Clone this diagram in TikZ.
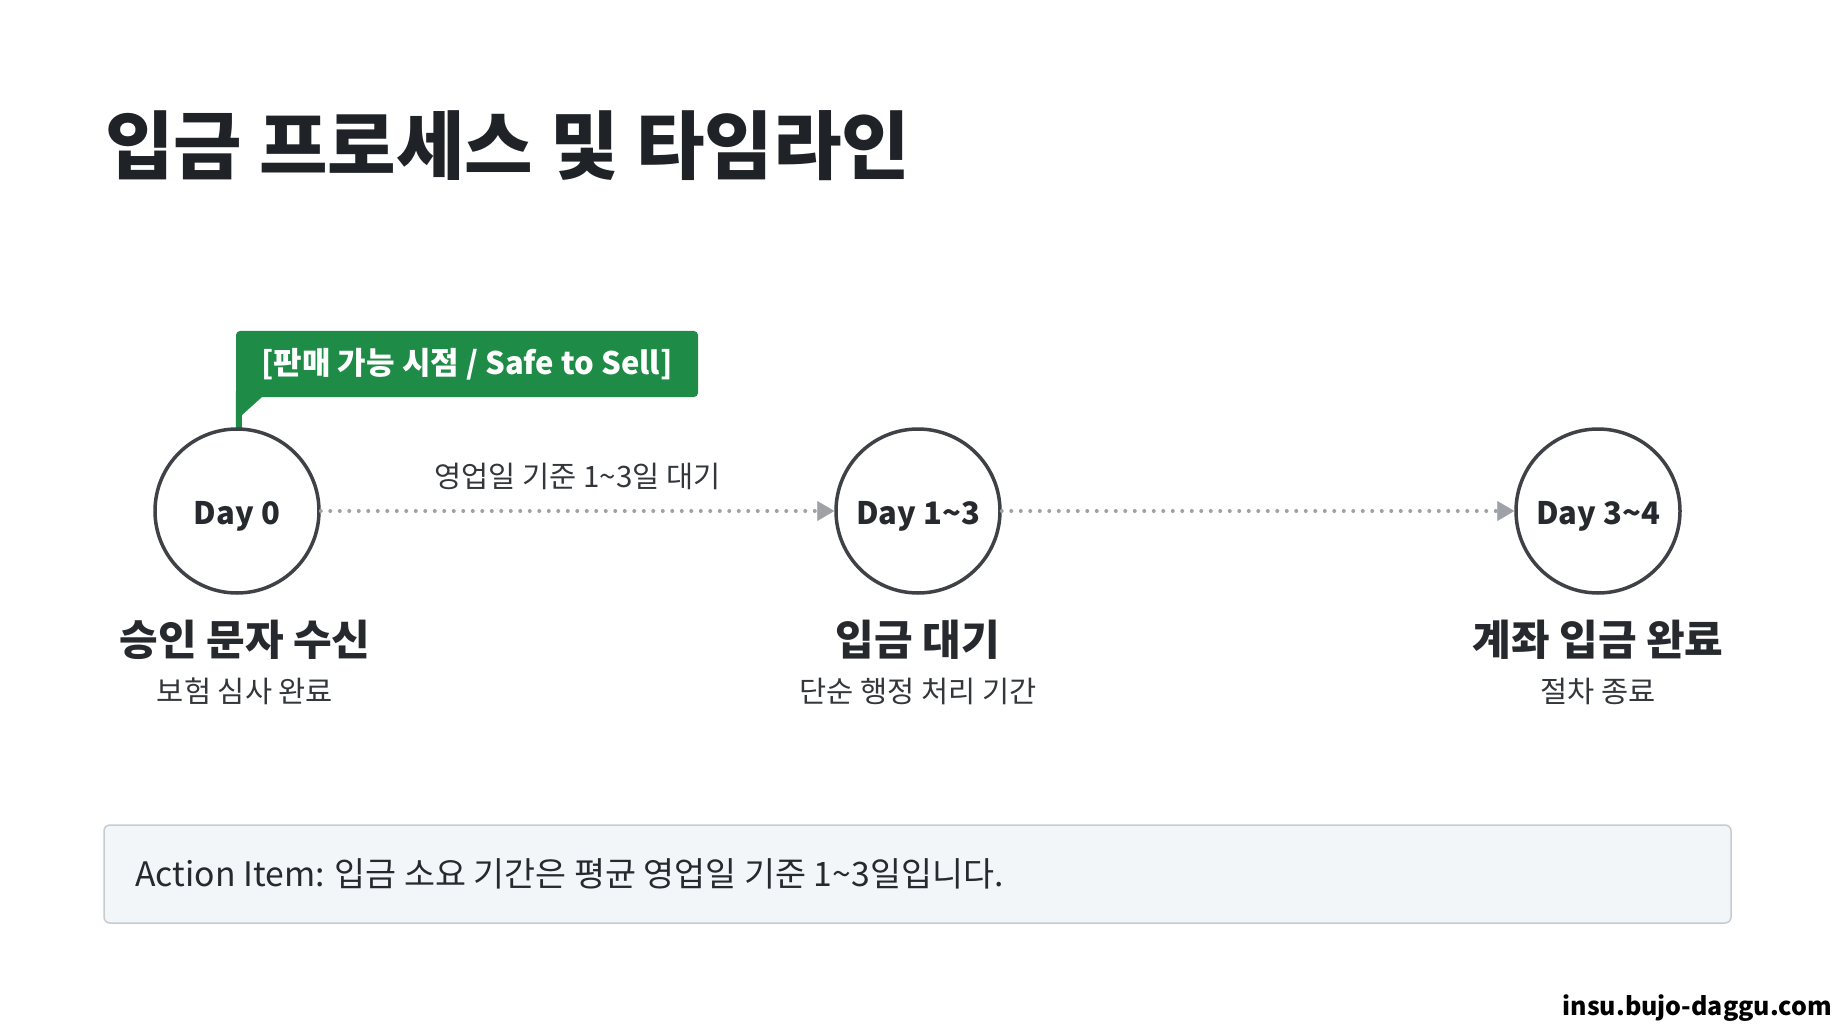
\documentclass[tikz,border=0pt]{standalone}
\usepackage{fontspec}
\setmainfont{Noto Sans CJK KR}
\usetikzlibrary{arrows.meta,positioning,calc}
\definecolor{titleink}{HTML}{1F2328}
\definecolor{textdark}{HTML}{26292D}
\definecolor{notegray}{HTML}{33373B}
\definecolor{ringgray}{HTML}{3E4246}
\definecolor{dotgray}{HTML}{9EA2A6}
\definecolor{safegreen}{HTML}{1E8C46}
\definecolor{boxfill}{HTML}{F3F6F9}
\definecolor{boxline}{HTML}{C6CBD0}
\newcommand{\tl}{\textasciitilde}
\newcommand{\daytext}[1]{\raisebox{-5pt}[\height][\depth]{#1}}
\tikzstyle{day}=[circle, draw=ringgray, line width=3.5pt, fill=white,
    minimum size=164pt, inner sep=0pt, text=textdark,
    font=\fontsize{31}{37}\selectfont\bfseries]
\tikzstyle{stage}=[inner sep=0pt, text=textdark,
    font=\fontsize{42}{50}\selectfont\bfseries]
\tikzstyle{note}=[inner sep=0pt, text=notegray,
    font=\fontsize{29.5}{35}\selectfont]
\tikzstyle{wait}=[dotgray, line width=4pt, line cap=round,
    dash pattern=on 0pt off 9.5pt,
    -{Triangle[width=20pt,length=17pt,line width=0.5pt]}]
\tikzstyle{flag}=[fill=safegreen, rounded corners=4pt, text=white,
    minimum width=462pt, minimum height=66pt, inner sep=0pt,
    font=\fontsize{31}{37}\selectfont\bfseries]

\begin{document}
\begin{tikzpicture}[x=1pt, y=-1pt]
    \useasboundingbox[fill=white] (0,0) rectangle (1834,1024);
    \node[anchor=west, inner sep=0pt, text=titleink,
        font=\fontsize{74.5}{90}\selectfont\bfseries] (title) at (105,146)
        {입금 프로세스 및 타임라인};
    % callout with its tail
    \node (safe) [flag] at (467,364) {[판매 가능 시점 / Safe to Sell]};
    \fill[safegreen] ($(safe.south west)+(0,-6)$) -- ++(0,40) -- ++(6,0)
        -- ++(0,-16) -- ++(20,-18) -- ++(0,-6) -- cycle;
    % milestones
    \node (d0) [day] at (237,511) {\daytext{Day 0}};
    \node (d1) [day] at (918,511) {\daytext{Day 1\tl 3}};
    \node (d2) [day] at (1598,511) {\daytext{Day 3\tl 4}};
    \draw[wait] (d0) -- node[midway, above=19pt, inner sep=0pt, text=notegray,
        font=\fontsize{29.5}{35}\selectfont] (gap) {영업일 기준 1\tl 3일 대기} (d1);
    \draw[wait] (d1) -- (d2);
    \node (s0) [stage, below=25pt of d0, xshift=8pt] {승인 문자 수신};
    \node (s1) [stage, below=25pt of d1] {입금 대기};
    \node (s2) [stage, below=25pt of d2] {계좌 입금 완료};
    \node (n0) [note, below=18pt of s0] {보험 심사 완료};
    \node (n1) [note, below=18pt of s1] {단순 행정 처리 기간};
    \node (n2) [note, below=18pt of s2] {절차 종료};
    % action item
    \node (action) [draw=boxline, line width=1.5pt, fill=boxfill,
        rounded corners=6pt, minimum width=1627pt, minimum height=98pt]
        at (917.5,874) {};
    \node (actiontext) [right=32pt of action.west, inner sep=0pt, text=textdark,
        font=\fontsize{33.7}{40}\selectfont]
        {Action Item: 입금 소요 기간은 평균 영업일 기준 1\tl 3일입니다.};
    \node (site) [anchor=east, inner sep=0pt, text=black,
        font=\fontsize{25}{30}\selectfont\bfseries] at (1832,1008)
        {insu.bujo-daggu.com};
\end{tikzpicture}
\end{document}
